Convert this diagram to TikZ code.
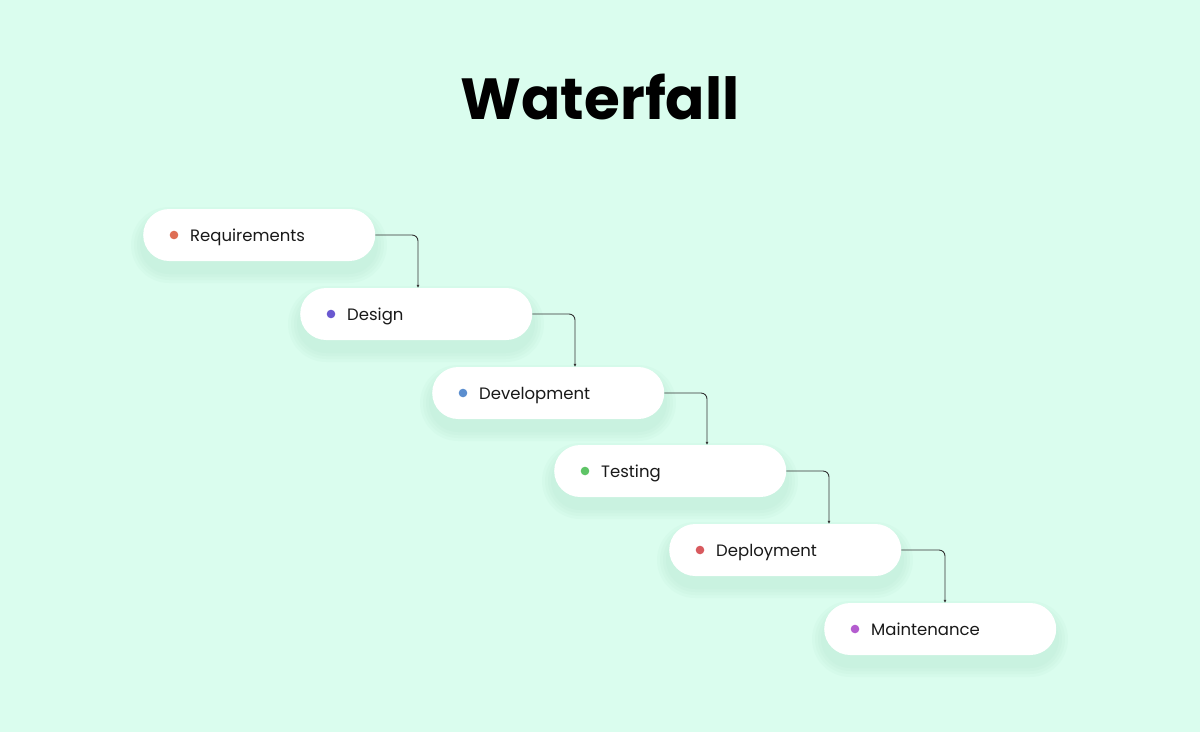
\documentclass[tikz,border=0pt]{standalone}
\usepackage{fontspec}
\setmainfont{Poppins}
\usetikzlibrary{arrows.meta,calc}
\definecolor{bg}{HTML}{DAFDEE}
\definecolor{sh}{HTML}{9FD9BE}
\definecolor{c1}{HTML}{DE6E55}
\definecolor{c2}{HTML}{6A58D0}
\definecolor{c3}{HTML}{5B8ECF}
\definecolor{c4}{HTML}{5EC466}
\definecolor{c5}{HTML}{D85A5E}
\definecolor{c6}{HTML}{B45CCF}
\tikzset{
  pill/.style={fill=white,rounded corners=26pt,minimum width=232pt,minimum height=52pt,inner sep=0pt},
  lbl/.style={anchor=base west,font=\fontsize{16.5}{20}\selectfont,text=black!90,inner sep=0pt},
  conn/.style={draw=black!80,line width=0.9pt,rounded corners=6pt,-{Latex[length=3pt,width=3pt]}}
}
\begin{document}
\begin{tikzpicture}[x=1pt,y=-1pt]
\fill[bg] (0,0) rectangle (1200,732);
\useasboundingbox (0,0) rectangle (1200,732);
\node (title) at (600,97) {\fontsize{58}{66}\selectfont\bfseries Waterfall};
\foreach \n/\l/\t/\c/\txt in {1/143/235/c1/Requirements,2/300/314/c2/Design,3/432/393/c3/Development,4/554/471/c4/Testing,5/669/550/c5/Deployment,6/824/629/c6/Maintenance}{
  \foreach \g in {12,9,6,3}{
    \fill[sh,opacity=0.07,rounded corners=26pt+\g pt] ($(\l,\t)+(-\g,-26+10-\g)$) rectangle ($(\l,\t)+(232+\g,26+10+\g)$);
  }
  \node[pill,anchor=west] (p\n) at (\l,\t) {};
  \fill[\c] ($(\l,\t)+(31,0)$) circle (4.3pt);
  \node[lbl] (t\n) at ($(\l,\t)+(47,6)$) {\txt};
}
\foreach \a/\b/\x in {1/2/418,2/3/575,3/4/707,4/5/829,5/6/945}{
  \draw[conn] (p\a.east) -- (\x,0 |- p\a.east) -- (\x,0 |- p\b.north);
}
\end{tikzpicture}
\end{document}
